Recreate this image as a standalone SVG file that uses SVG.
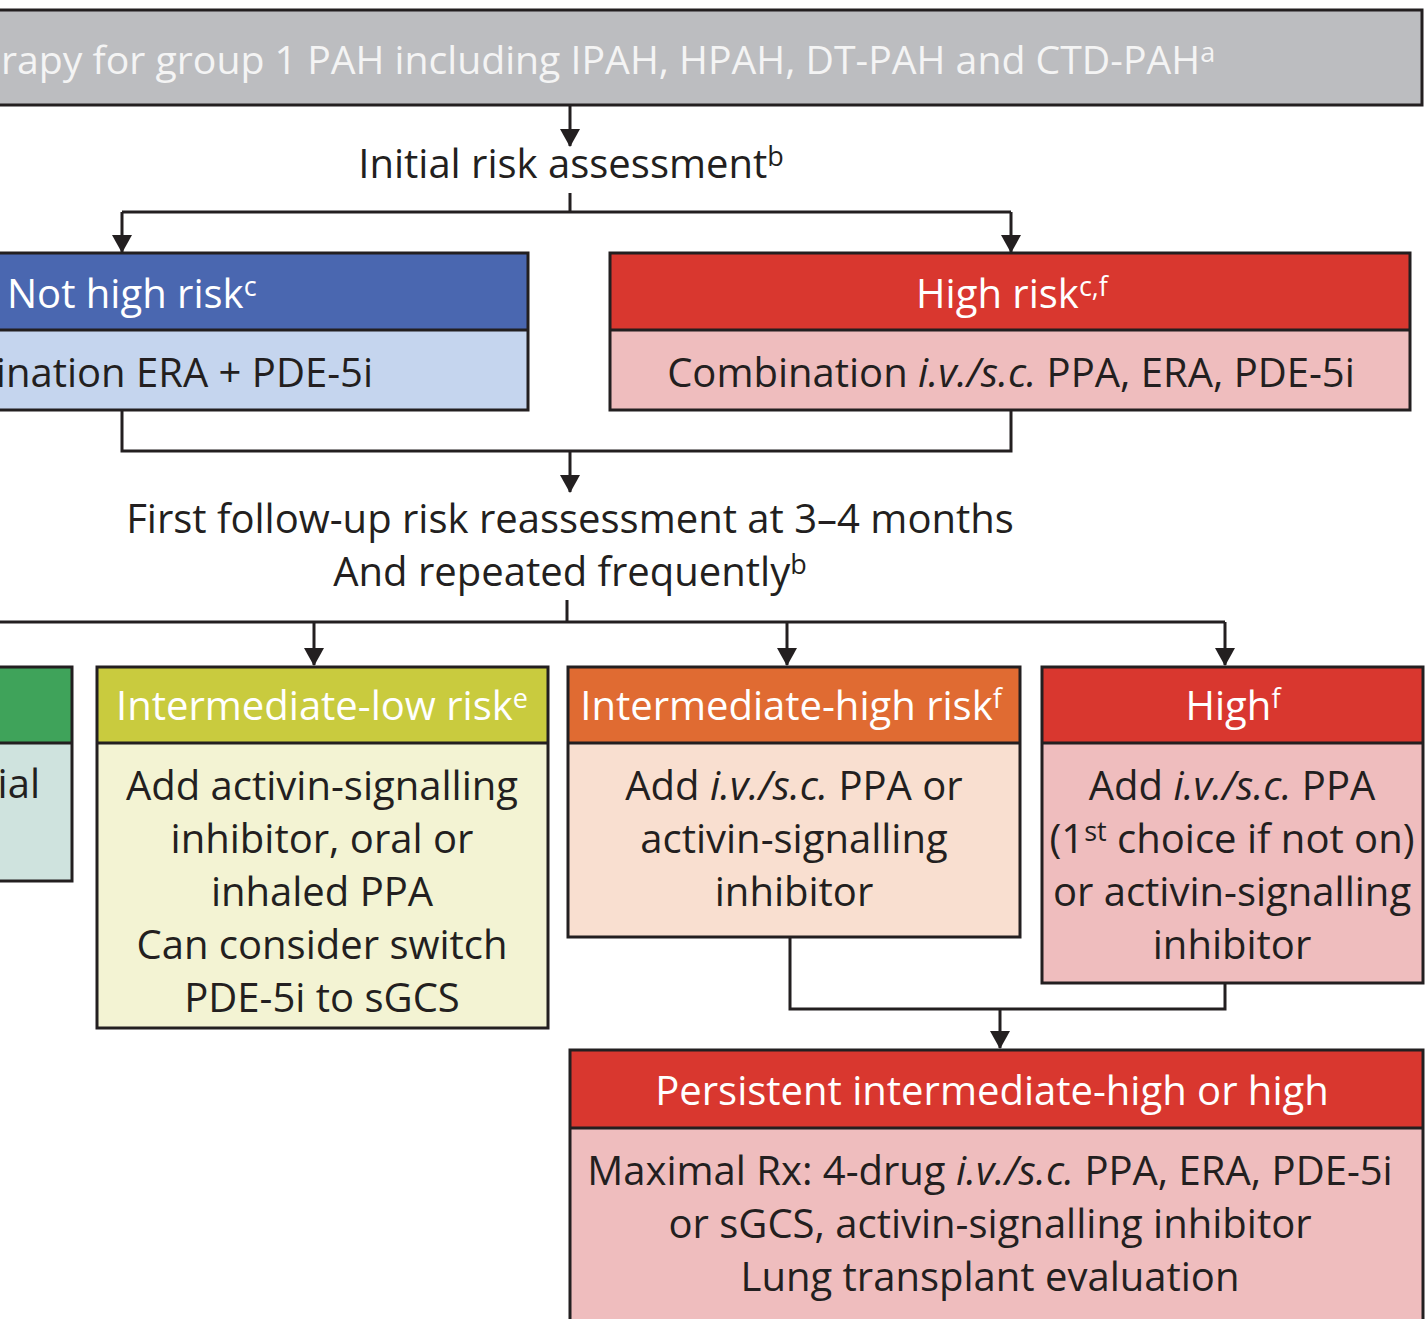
<svg xmlns="http://www.w3.org/2000/svg" width="1426" height="1319" viewBox="0 0 1426 1319">
<defs>
<style>
.t{font-family:"Open Sans","Noto Sans",sans-serif;font-size:40px;fill:#231f20;}
.c{text-anchor:middle;}
.e{text-anchor:end;}
.w{fill:#ffffff;}
.lw{fill:#f4f4f4;}
.sup{font-size:27px;}
.out{fill:none;stroke:#231f20;stroke-width:3;}
.sep{stroke:#231f20;stroke-width:3;}
.conn{fill:none;stroke:#231f20;stroke-width:3;}
</style>
<marker id="arr" markerUnits="userSpaceOnUse" viewBox="0 0 18 20" markerWidth="18" markerHeight="20" refX="17" refY="10" orient="auto">
<path d="M0,0 L18,10 L0,20 z" fill="#231f20"/>
</marker>
</defs>
<rect width="1426" height="1319" fill="#ffffff"/>

<g id="connectors">
<path class="conn" d="M570,105 V146" marker-end="url(#arr)"/>
<path class="conn" d="M570,193 V212 M122,212 H1011"/>
<path class="conn" d="M122,212 V252" marker-end="url(#arr)"/>
<path class="conn" d="M1011,212 V252" marker-end="url(#arr)"/>
<path class="conn" d="M122,410 V451 H1011 V410"/>
<path class="conn" d="M570,451 V492" marker-end="url(#arr)"/>
<path class="conn" d="M567,600 V622 M-5,622 H1225"/>
<path class="conn" d="M314,622 V665" marker-end="url(#arr)"/>
<path class="conn" d="M787,622 V665" marker-end="url(#arr)"/>
<path class="conn" d="M1225,622 V665" marker-end="url(#arr)"/>
<path class="conn" d="M790,937 V1009 H1225 V983"/>
<path class="conn" d="M1000,1009 V1048" marker-end="url(#arr)"/>
</g>

<g id="start">
<rect x="-10" y="10" width="1432" height="95" fill="#bcbdc0"/>
<rect class="out" x="-10" y="10" width="1432" height="95"/>
<text class="t lw" x="1" y="74" style="font-size:39.2px">rapy for group 1 PAH including IPAH, HPAH, DT-PAH and CTD-PAH<tspan class="sup" dy="-12">a</tspan></text>
</g>

<g id="initial-assessment">
<text class="t c" x="571" y="178">Initial risk assessment<tspan class="sup" dy="-12">b</tspan></text>
</g>

<g id="not-high-risk">
<rect x="-10" y="253" width="538" height="157" fill="#c5d5ee"/>
<rect x="-10" y="253" width="538" height="77" fill="#4a67b0"/>
<line class="sep" x1="-10" y1="330" x2="528" y2="330"/>
<rect class="out" x="-10" y="253" width="538" height="157"/>
<text class="t w" x="7" y="308">Not high risk<tspan class="sup" dy="-12">c</tspan></text>
<text class="t e" x="373" y="387">ination ERA + PDE-5i</text>
</g>

<g id="high-risk">
<rect x="610" y="253" width="800" height="157" fill="#efbdbe"/>
<rect x="610" y="253" width="800" height="77" fill="#d9372f"/>
<line class="sep" x1="610" y1="330" x2="1410" y2="330"/>
<rect class="out" x="610" y="253" width="800" height="157"/>
<text class="t w c" x="1012" y="308">High risk<tspan class="sup" dy="-12">c,f</tspan></text>
<text class="t c" x="1011" y="387">Combination <tspan font-style="italic">i.v./s.c.</tspan> PPA, ERA, PDE-5i</text>
</g>

<g id="follow-up">
<text class="t c" x="570" y="533">First follow-up risk reassessment at 3–4 months</text>
<text class="t c" x="570" y="586">And repeated frequently<tspan class="sup" dy="-12">b</tspan></text>
</g>

<g id="low-risk">
<rect x="-10" y="667" width="82" height="214" fill="#cfe3de"/>
<rect x="-10" y="667" width="82" height="76" fill="#3fa35a"/>
<line class="sep" x1="-10" y1="743" x2="72" y2="743"/>
<rect class="out" x="-10" y="667" width="82" height="214"/>
<text class="t e" x="40" y="798">ial</text>
</g>

<g id="intermediate-low">
<rect x="97" y="667" width="451" height="361" fill="#f3f3d3"/>
<rect x="97" y="667" width="451" height="76" fill="#c9cb3e"/>
<line class="sep" x1="97" y1="743" x2="548" y2="743"/>
<rect class="out" x="97" y="667" width="451" height="361"/>
<text class="t w c" x="322" y="720">Intermediate-low risk<tspan class="sup" dy="-12">e</tspan></text>
<text class="t c" x="322" y="800">Add activin-signalling</text>
<text class="t c" x="322" y="853">inhibitor, oral or</text>
<text class="t c" x="322" y="906">inhaled PPA</text>
<text class="t c" x="322" y="959">Can consider switch</text>
<text class="t c" x="322" y="1012">PDE-5i to sGCS</text>
</g>

<g id="intermediate-high">
<rect x="568" y="667" width="452" height="270" fill="#f9dfd0"/>
<rect x="568" y="667" width="452" height="76" fill="#e06b32"/>
<line class="sep" x1="568" y1="743" x2="1020" y2="743"/>
<rect class="out" x="568" y="667" width="452" height="270"/>
<text class="t w c" x="791" y="720">Intermediate-high risk<tspan class="sup" dy="-12">f</tspan></text>
<text class="t c" x="794" y="800">Add <tspan font-style="italic">i.v./s.c.</tspan> PPA or</text>
<text class="t c" x="794" y="853">activin-signalling</text>
<text class="t c" x="794" y="906">inhibitor</text>
</g>

<g id="high">
<rect x="1042" y="667" width="381" height="316" fill="#efbdbe"/>
<rect x="1042" y="667" width="381" height="76" fill="#d9372f"/>
<line class="sep" x1="1042" y1="743" x2="1423" y2="743"/>
<rect class="out" x="1042" y="667" width="381" height="316"/>
<text class="t w c" x="1233" y="720">High<tspan class="sup" dy="-12">f</tspan></text>
<text class="t c" x="1232" y="800">Add <tspan font-style="italic">i.v./s.c.</tspan> PPA</text>
<text class="t c" x="1232" y="853">(1<tspan class="sup" dy="-12">st</tspan><tspan dy="12"> choice if not on)</tspan></text>
<text class="t c" x="1232" y="906">or activin-signalling</text>
<text class="t c" x="1232" y="959">inhibitor</text>
</g>

<g id="persistent">
<rect x="570" y="1050" width="853" height="300" fill="#efbdbe"/>
<rect x="570" y="1050" width="853" height="78" fill="#d9372f"/>
<line class="sep" x1="570" y1="1128" x2="1423" y2="1128"/>
<rect class="out" x="570" y="1050" width="853" height="300"/>
<text class="t w c" x="992" y="1105">Persistent intermediate-high or high</text>
<text class="t c" x="990" y="1185">Maximal Rx: 4-drug <tspan font-style="italic">i.v./s.c.</tspan> PPA, ERA, PDE-5i</text>
<text class="t c" x="990" y="1238">or sGCS, activin-signalling inhibitor</text>
<text class="t c" x="990" y="1291">Lung transplant evaluation</text>
</g>
</svg>
